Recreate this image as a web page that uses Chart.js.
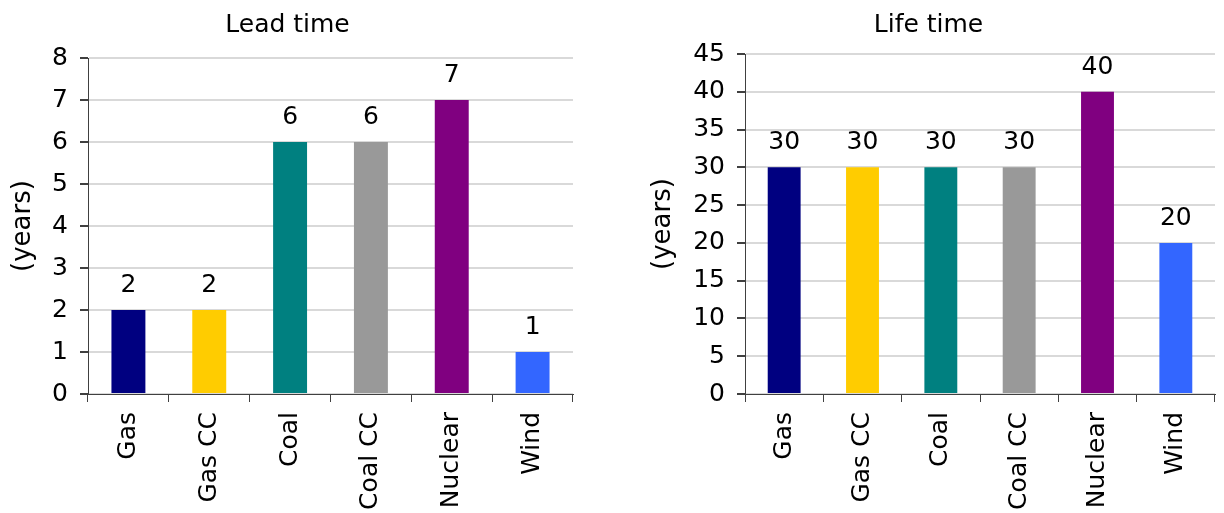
<!DOCTYPE html>
<html>
<head>
<meta charset="utf-8">
<script src="https://cdn.jsdelivr.net/npm/chart.js@4/dist/chart.umd.min.js"></script>
<style>
  html, body { margin: 0; padding: 0; background: #fff; }
  .panel { position: absolute; top: 0; width: 612px; height: 513px; }
  #leadPanel { left: 0; }
  #lifePanel { left: 612px; }
</style>
</head>
<body>
<div class="panel" id="leadPanel"><canvas id="leadChart"></canvas></div>
<div class="panel" id="lifePanel"><canvas id="lifeChart"></canvas></div>
<script>
const plants = ["Gas", "Gas CC", "Coal", "Coal CC", "Nuclear", "Wind"];
const plantColors = ["#000080", "#ffcc00", "#008080", "#999999", "#800080", "#3366ff"];
const leadTime = [2, 2, 6, 6, 7, 1];
const lifeTime = [30, 30, 30, 30, 40, 20];

const FONT = "'DejaVu Sans', Verdana, sans-serif";
Chart.defaults.font.family = FONT;
Chart.defaults.color = "#000";

// writes each bar's value just above it
const valueLabels = {
  id: "valueLabels",
  afterDatasetsDraw(chart) {
    const ctx = chart.ctx;
    const meta = chart.getDatasetMeta(0);
    const values = chart.data.datasets[0].data;
    ctx.save();
    ctx.font = "25px " + FONT;
    ctx.fillStyle = "#000";
    ctx.textAlign = "center";
    ctx.textBaseline = "alphabetic";
    meta.data.forEach((bar, i) => {
      ctx.fillText(values[i], bar.x, bar.y - 18);
    });
    ctx.restore();
  }
};

function makeChart(id, title, values, yMax, yStep, opts) {
  return new Chart(document.getElementById(id), {
    type: "bar",
    data: {
      labels: plants,
      datasets: [{
        data: values,
        backgroundColor: plantColors,
        barPercentage: 0.42,
        categoryPercentage: 1
      }]
    },
    plugins: [valueLabels],
    options: {
      responsive: true,
      maintainAspectRatio: false,
      animation: false,
      layout: { padding: { left: opts.padLeft, right: opts.padRight, top: 0, bottom: 0 } },
      plugins: {
        legend: { display: false },
        tooltip: { enabled: false },
        title: {
          display: true,
          text: title,
          color: "#000",
          font: { size: 25, weight: "normal" },
          padding: { top: 10, bottom: opts.titleGap }
        }
      },
      scales: {
        x: {
          grid: {
            offset: true,
            drawOnChartArea: false,
            tickLength: 8,
            tickColor: "#404040"
          },
          border: { color: "#404040", width: 1 },
          ticks: {
            maxRotation: 90,
            minRotation: 90,
            padding: 10,
            font: { size: 25 }
          },
          afterFit(scale) { scale.height = 119; }
        },
        y: {
          min: 0,
          max: yMax,
          ticks: {
            stepSize: yStep,
            padding: 12,
            font: { size: 25 }
          },
          grid: {
            color: "#d9d9d9",
            lineWidth: 2,
            tickLength: 8,
            tickColor: "#404040"
          },
          border: { color: "#404040", width: 1 },
          title: {
            display: true,
            text: "(years)",
            font: { size: 26 },
            padding: { top: 6, bottom: 0 }
          },
          afterFit(scale) { scale.width = opts.axisWidth; }
        }
      }
    }
  });
}

makeChart("leadChart", "Lead time", leadTime, 8, 1,
  { padLeft: 2, padRight: 39, axisWidth: 86, titleGap: 18 });
makeChart("lifeChart", "Life time", lifeTime, 45, 5,
  { padLeft: 30, padRight: 9, axisWidth: 103, titleGap: 14 });
</script>
</body>
</html>
